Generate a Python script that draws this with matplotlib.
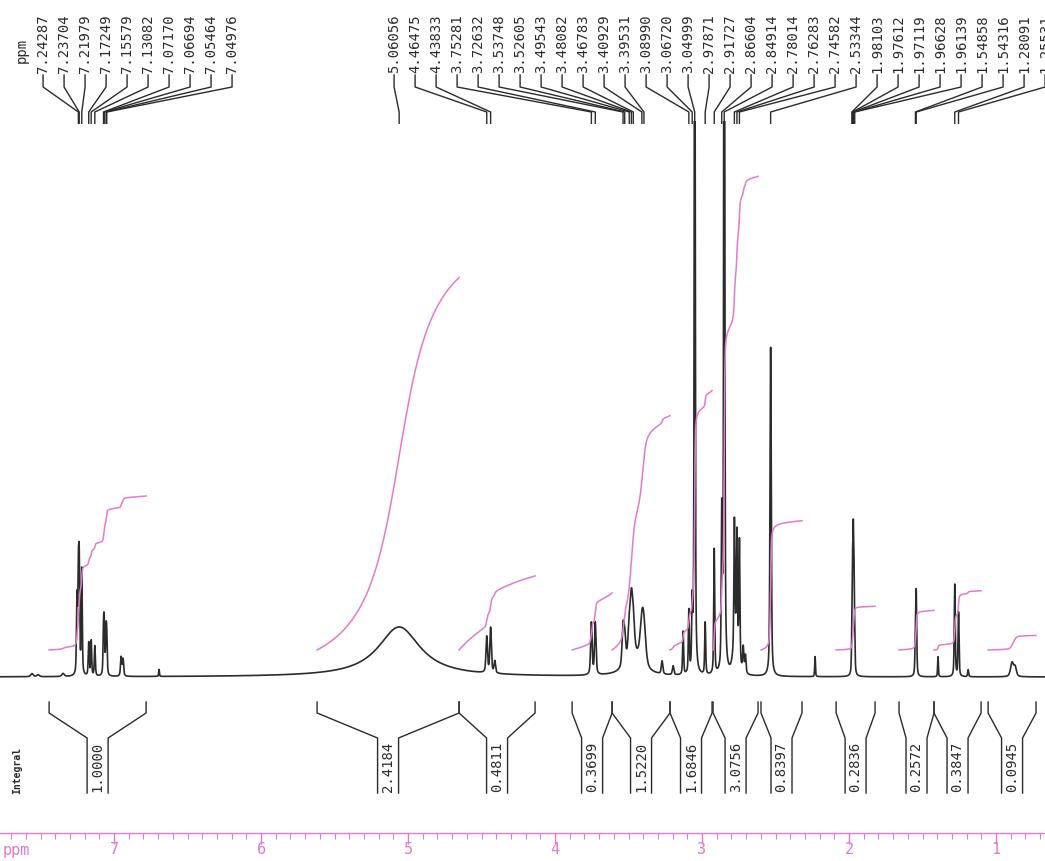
import numpy as np
import matplotlib
matplotlib.use("Agg")
import matplotlib.pyplot as plt
from matplotlib.ticker import MultipleLocator, FormatStrFormatter

# ─── canvas / style ────────────────────────────────────────────────
W, H = 1045, 861
INK = "#2b2b2b"
PINK = "#e27bcb"
MONO = "DejaVu Sans Mono"
XLIM = (7.776, 0.667)          # ppm, left -> right

# ─── peaks ─────────────────────────────────────────────────────────
# shift (ppm), height (px above baseline), half width (ppm)
PEAK_PPM = [7.558, 7.517, 7.347, 7.2525, 7.24287, 7.23704, 7.21979,
            7.17249, 7.15579, 7.13082, 7.07170, 7.06694, 7.05464, 7.04976,
            6.952, 6.939, 6.694,
            5.06056,
            4.46475, 4.43833, 4.41,
            3.75281, 3.72632,
            3.53748, 3.52605, 3.49543, 3.48082, 3.46783, 3.40929, 3.39531, 3.46,
            3.272, 3.197,
            3.129, 3.08990, 3.06720, 3.04999,
            2.97871, 2.91727, 2.86604, 2.84914,
            2.78014, 2.76283, 2.74582, 2.77, 2.72, 2.705,
            2.53344, 2.231,
            1.98103, 1.97612, 1.97119, 1.96628, 1.96139,
            1.54858, 1.54316, 1.395,
            1.28091, 1.25531, 1.19,
            0.891, 0.87]
PEAK_H = [3, 2, 3, 75, 90, 100, 105,
          33, 35, 30, 40, 42, 38, 32,
          19, 17, 7,
          50,
          36, 45, 12,
          52, 52,
          38, 25, 30, 50, 30, 36, 32, 20,
          13, 9,
          43, 62, 64, 800,
          52, 125, 150, 1000,
          125, 110, 120, 35, 25, 18,
          329, 20,
          30, 90, 118, 85, 28,
          30, 78, 20,
          92, 64, 7,
          14, 9]
PEAK_W = [0.01, 0.01, 0.01, 0.004, 0.004, 0.004, 0.004,
          0.004, 0.004, 0.004, 0.004, 0.004, 0.004, 0.004,
          0.005, 0.005, 0.003,
          0.175,
          0.006, 0.006, 0.006,
          0.006, 0.006,
          0.008, 0.008, 0.01, 0.01, 0.01, 0.015, 0.015, 0.06,
          0.006, 0.006,
          0.004, 0.004, 0.004, 0.004,
          0.004, 0.004, 0.004, 0.004,
          0.004, 0.004, 0.004, 0.02, 0.005, 0.005,
          0.005, 0.003,
          0.003, 0.003, 0.003, 0.003, 0.003,
          0.004, 0.004, 0.003,
          0.004, 0.004, 0.004,
          0.012, 0.01]

# ─── peak pick labels ──────────────────────────────────────────────
PICK_LABELS = ["7.24287", "7.23704", "7.21979", "7.17249", "7.15579",
               "7.13082", "7.07170", "7.06694", "7.05464", "7.04976",
               "5.06056", "4.46475", "4.43833", "3.75281", "3.72632",
               "3.53748", "3.52605", "3.49543", "3.48082", "3.46783",
               "3.40929", "3.39531", "3.08990", "3.06720", "3.04999",
               "2.97871", "2.91727", "2.86604", "2.84914", "2.78014",
               "2.76283", "2.74582", "2.53344", "1.98103", "1.97612",
               "1.97119", "1.96628", "1.96139", "1.54858", "1.54316",
               "1.28091", "1.25531"]
PICK_GROUP_START = [7.483, 5.095]   # ppm where each label block begins
PICK_GROUP_SIZE = [10, 32]

# ─── integrals ─────────────────────────────────────────────────────
INT_LEFT = [7.442, 5.619, 4.653, 3.884, 3.612, 3.218, 2.925, 2.599,
            2.088, 1.660, 1.422, 1.054]
INT_RIGHT = [6.782, 4.653, 4.136, 3.612, 3.218, 2.932, 2.619, 2.320,
             1.823, 1.422, 1.102, 0.728]
INT_VAL = [1.0000, 2.4184, 0.4811, 0.3699, 1.5220, 1.6846, 3.0756,
           0.8397, 0.2836, 0.2572, 0.3847, 0.0945]

PX_PER_PPM = 147.0
INT_OFFSET = 27     # px above baseline where each integral starts
INT_SCALE = 154     # px per integral unit


def rect(top, bottom):
    """figure rect spanning full width between two pixel rows."""
    return [0, 1 - bottom / H, 1, (bottom - top) / H]


def spectrum(x):
    y = np.zeros_like(x)
    for p, h, w in zip(PEAK_PPM, PEAK_H, PEAK_W):
        eta = 1.0 if w > 0.05 else 0.5
        d = (x - p) / w
        y += h * (eta / (1 + d ** 2) + (1 - eta) * np.exp(-np.log(2) * d ** 2))
    return y


fig = plt.figure(figsize=(W / 100, H / 100), dpi=100, facecolor="white")

# ─── spectrum + integral curves ────────────────────────────────────
ax = fig.add_axes(rect(121, 700))
ax.set_xlim(*XLIM)
ax.set_ylim(-23, 556)
ax.axis("off")

ppm = np.linspace(XLIM[0], XLIM[1], 30000)
spec = spectrum(ppm)
ax.plot(ppm, spec, color=INK, lw=1.2)

for a, b, v in zip(INT_LEFT, INT_RIGHT, INT_VAL):
    m = (ppm <= a) & (ppm >= b)
    cum = np.cumsum(spec[m])
    cum = (cum - cum[0]) / (cum[-1] - cum[0])
    ax.plot(ppm[m], INT_OFFSET + v * INT_SCALE * cum, color=PINK, lw=1.1)

# ─── peak labels with leader lines (y = px from top) ───────────────
axl = fig.add_axes(rect(0, 124))
axl.set_xlim(*XLIM)
axl.set_ylim(124, 0)
axl.axis("off")

step = 21 / PX_PER_PPM
i = 0
for start, n in zip(PICK_GROUP_START, PICK_GROUP_SIZE):
    for k in range(n):
        lab = PICK_LABELS[i]
        xl = start - k * step
        xp = float(lab)
        axl.plot([xl, xl, xp, xp], [75, 87, 112, 124], color=INK, lw=1.0)
        axl.text(xl, 73, lab, rotation=90, ha="center", va="bottom",
                 fontsize=10, family=MONO, color=INK)
        i += 1
axl.text(PICK_GROUP_START[0] + step, 63, "ppm", rotation=90, ha="center",
         va="bottom", fontsize=10, family=MONO, color=INK)

# ─── integral brackets (y = px from top) ───────────────────────────
axi = fig.add_axes(rect(695, 800))
axi.set_xlim(*XLIM)
axi.set_ylim(800, 695)
axi.axis("off")
half = 10.5 / PX_PER_PPM
for a, b, v in zip(INT_LEFT, INT_RIGHT, INT_VAL):
    c = (a + b) / 2
    axi.plot([a, a, c + half, c + half], [702, 713, 738, 793], color=INK, lw=1.0)
    axi.plot([b, b, c - half, c - half], [702, 713, 738, 793], color=INK, lw=1.0)
    axi.text(c, 792, f"{v:.4f}", rotation=90, ha="center", va="bottom",
             fontsize=10, family=MONO, color=INK)
fig.text(17 / W, 1 - 771 / H, "Integral", rotation=90, ha="center",
         va="center", fontsize=7, fontweight="bold", family=MONO, color=INK)

# ─── ppm scale ─────────────────────────────────────────────────────
axs = fig.add_axes(rect(833, 842))
axs.set_xlim(*XLIM)
axs.set_yticks([])
axs.patch.set_alpha(0)
for side in ("left", "right", "bottom"):
    axs.spines[side].set_visible(False)
axs.spines["top"].set_color(PINK)
axs.spines["top"].set_linewidth(1.0)
axs.xaxis.set_major_locator(MultipleLocator(1))
axs.xaxis.set_minor_locator(MultipleLocator(0.1))
axs.xaxis.set_major_formatter(FormatStrFormatter("%d"))
axs.tick_params(axis="x", which="both", top=True, bottom=False,
                direction="in", labeltop=False, labelbottom=True,
                color=PINK, labelcolor=PINK, labelsize=11, pad=0)
axs.tick_params(axis="x", which="major", length=8, width=1.0)
axs.tick_params(axis="x", which="minor", length=4, width=0.8)
for t in axs.get_xticklabels():
    t.set_family(MONO)
fig.text(3 / W, 1 - 851 / H, "ppm", ha="left", va="center", fontsize=11,
         family=MONO, color=PINK)

fig.savefig("out.png", dpi=100, facecolor="white")
